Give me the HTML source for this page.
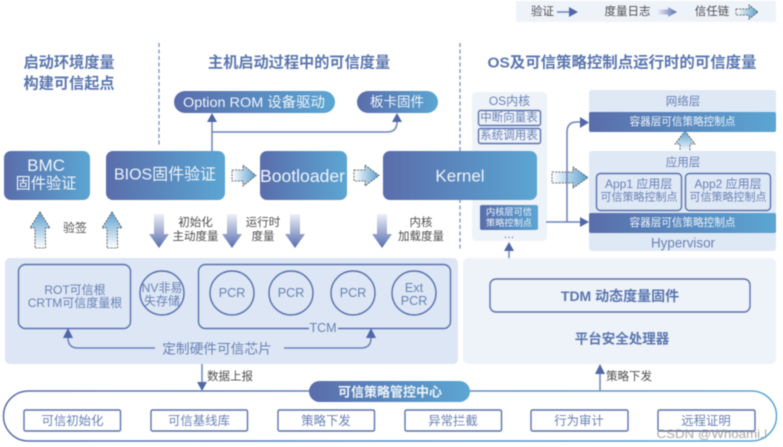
<!DOCTYPE html>
<html><head><meta charset="utf-8">
<style>
html,body{margin:0;padding:0;background:#fff;width:783px;height:447px;overflow:hidden}
svg{display:block;filter:blur(0.5px)}
text{font-family:"Liberation Sans","Noto Sans CJK SC",sans-serif;text-anchor:middle;dominant-baseline:central}
.t{font-size:15.2px;font-weight:700;fill:#5a76ae}
.w{fill:#eef4fa}
.d{fill:#4f4f4f;font-size:11.5px}
.b{fill:#6a82b5}
.box{fill:none;stroke:#5a72ae;stroke-width:1.4}
.ln{fill:none;stroke:#6c83ba;stroke-width:1.5}
.hd{fill:#5168a8}
.chain{fill:url(#gc);stroke:#444;stroke-width:.8;stroke-dasharray:2 1.2}
.up{fill:url(#gu);stroke:#444;stroke-width:.8;stroke-dasharray:2 1.2}
</style></head><body>
<svg width="783" height="447" viewBox="0 0 783 447" xmlns="http://www.w3.org/2000/svg">
<defs>
<linearGradient id="g" x1="0" x2="1" y1="0" y2="0"><stop offset="0" stop-color="#5a6dab"/><stop offset="1" stop-color="#5ba6d3"/></linearGradient>
<linearGradient id="gc" x1="0" x2="1" y1="0" y2="0"><stop offset="0" stop-color="#fff"/><stop offset="1" stop-color="#5b9fce"/></linearGradient>
<linearGradient id="gu" x1="0" x2="0" y1="1" y2="0"><stop offset="0" stop-color="#fff"/><stop offset="1" stop-color="#5b9fce"/></linearGradient>
<linearGradient id="gd" x1="0" x2="0" y1="0" y2="1"><stop offset="0" stop-color="#eef0f8"/><stop offset="1" stop-color="#566dad"/></linearGradient>
<linearGradient id="gl" x1="0" x2="1" y1="0" y2="0"><stop offset="0" stop-color="#f0f2f9"/><stop offset="1" stop-color="#566dad"/></linearGradient>
<linearGradient id="gs" gradientUnits="userSpaceOnUse" x1="4" x2="776" y1="0" y2="0"><stop offset="0" stop-color="#5a6dab"/><stop offset="1" stop-color="#5ba6d3"/></linearGradient>
<path id="down" d="M-5 0H5V20H10L0 34L-10 20H-5Z" fill="url(#gd)"/>
</defs>

<!-- legend -->
<rect x="516" y="1" width="260" height="21" fill="#eef3fa"/>
<text class="d" x="542.500" y="12">验证</text>
<path d="M557 12H570" class="ln"/><path d="M569 7L578 12L569 17Z" class="hd"/>
<text class="d" x="627.500" y="12">度量日志</text>
<path d="M657 9.500H668V7L677 12L668 17V14.500H657Z" fill="url(#gl)"/>
<text class="d" x="712" y="12">信任链</text>
<path class="chain" d="M736 9H749V5L758 12L749 19V15H736Z"/>

<!-- titles -->
<text class="t" x="69" y="63">启动环境度量</text>
<text class="t" x="69" y="84">构建可信起点</text>
<text class="t" x="299" y="63">主机启动过程中的可信度量</text>
<text class="t" x="622" y="63" textLength="269" lengthAdjust="spacingAndGlyphs">OS及可信策略控制点运行时的可信度量</text>
<path d="M159 43V146" stroke="#7a90c0" stroke-width="1.300" stroke-dasharray="4 2.500" fill="none"/>
<path d="M460 43V251" stroke="#7a90c0" stroke-width="1.300" stroke-dasharray="4 2.500" fill="none"/>

<!-- pills -->
<rect x="174" y="91" width="161" height="22" rx="11" fill="url(#g)"/>
<text class="w" x="254" y="102" font-size="14" textLength="142" lengthAdjust="spacingAndGlyphs">Option ROM 设备驱动</text>
<rect x="357" y="91" width="81" height="22" rx="11" fill="url(#g)"/>
<text class="w" x="397" y="102" font-size="13.500">板卡固件</text>

<!-- connector to pills -->
<path class="ln" d="M212 151V122"/>
<path class="hd" d="M207 122L212 113L217 122Z"/>
<path class="ln" d="M212 132H387Q397 132 397 122"/>
<path class="hd" d="M392 122L397 113L402 122Z"/>

<!-- OS kernel panel -->
<rect x="472" y="92" width="75" height="149" rx="4" fill="#eef3fa"/>
<text class="b" x="509.500" y="101" font-size="12">OS内核</text>
<rect class="box" x="478.500" y="110.500" width="62" height="15" rx="2"/>
<text class="b" x="509" y="118" font-size="11.500">中断向量表</text>
<rect class="box" x="478.500" y="128.500" width="62" height="15" rx="2"/>
<text class="b" x="509" y="136" font-size="11.500">系统调用表</text>
<rect x="480" y="205" width="58" height="25" rx="2" fill="url(#g)"/>
<text class="w" x="509" y="212" font-size="9.200">内核层可信</text>
<text class="w" x="509" y="223" font-size="9.200">策略控制点</text>
<text x="509" y="235" font-size="11" fill="#4f66a6">…</text>

<!-- main boxes -->
<rect x="4" y="151" width="86" height="49" rx="7" fill="url(#g)"/>
<text class="w" x="46" y="165.500" font-size="17">BMC</text>
<text class="w" x="46" y="184" font-size="15.200">固件验证</text>
<rect x="106" y="151" width="119" height="49" rx="7" fill="url(#g)"/>
<text class="w" x="165" y="175" font-size="16" textLength="102" lengthAdjust="spacingAndGlyphs">BIOS固件验证</text>
<rect x="260" y="151" width="87" height="49" rx="7" fill="url(#g)"/>
<text class="w" x="302.500" y="176" font-size="17.500" textLength="85" lengthAdjust="spacingAndGlyphs">Bootloader</text>
<rect x="383" y="151" width="154" height="49" rx="7" fill="url(#g)"/>
<text class="w" x="460" y="176" font-size="17">Kernel</text>

<!-- chain arrows -->
<path class="chain" d="M232 170H243V165L256 175.500L243 186V181H232Z"/>
<path class="chain" d="M354 170H365V165L379 175.500L365 186V181H354Z"/>
<path class="chain" d="M552 172H573V167L588 177.500L573 188V183H552Z"/>
<path class="up" d="M40 212L50 228H45.500V248H35V228H30Z"/>
<path class="up" d="M112 212L122 228H117.500V248H107V228H102Z"/>
<path class="up" d="M685 131L695 144H690V152H680V144H675Z"/>

<!-- down arrows -->
<use href="#down" x="159" y="214"/>
<use href="#down" x="232" y="214"/>
<use href="#down" x="295" y="214"/>
<use href="#down" x="382" y="214"/>
<text class="d" x="75" y="228" style="font-size:12px">验签</text>
<text class="d" x="195.500" y="223">初始化</text>
<text class="d" x="195.500" y="237">主动度量</text>
<text class="d" x="263" y="223">运行时</text>
<text class="d" x="263" y="237">度量</text>
<text class="d" x="421" y="223">内核</text>
<text class="d" x="421" y="237">加载度量</text>

<!-- right layers -->
<rect x="589" y="90" width="187" height="42" rx="3" fill="#dfe8f5"/>
<text class="b" x="683" y="102" font-size="11.500">网络层</text>
<rect x="589" y="112" width="187" height="20" rx="2" fill="url(#g)"/>
<text class="w" x="682.500" y="122" font-size="10.600">容器层可信策略控制点</text>
<rect x="589" y="151" width="187" height="100" rx="3" fill="#dfe8f5"/>
<text class="b" x="683" y="163" font-size="11.500">应用层</text>
<rect class="box" x="596.500" y="173.500" width="85" height="37" rx="4"/>
<rect class="box" x="685.500" y="173.500" width="85" height="37" rx="4"/>
<text class="b" x="638.700" y="184" font-size="12">App1 应用层</text>
<text class="b" x="639" y="197.500" font-size="11">可信策略控制点</text>
<text class="b" x="728" y="184" font-size="12">App2 应用层</text>
<text class="b" x="728" y="197.500" font-size="11">可信策略控制点</text>
<rect x="589" y="213" width="187" height="20" rx="2" fill="url(#g)"/>
<text class="w" x="682.500" y="223" font-size="10.600">容器层可信策略控制点</text>
<text class="b" x="683" y="243" font-size="13.400">Hypervisor</text>
<path class="ln" d="M546 222H581M567 222V132Q567 122 577 122H581"/>
<path class="hd" d="M580 217L589 222L580 227Z"/>
<path class="hd" d="M580 117L589 122.500L580 128Z"/>

<!-- chip panel -->
<rect x="5" y="258" width="453" height="106" rx="5" fill="#dce6f4"/>
<rect class="box" x="18.500" y="264.500" width="112" height="64" rx="7"/>
<text class="b" x="75" y="290" font-size="12">ROT可信根</text>
<text class="b" x="75" y="303" font-size="12">CRTM可信度量根</text>
<circle class="box" cx="162" cy="293" r="22"/>
<text class="b" x="162" y="288" font-size="12">NV非易</text>
<text class="b" x="162" y="301" font-size="12">失存储</text>
<rect class="box" x="198.500" y="264.500" width="252" height="64" rx="7"/>
<rect x="309" y="322" width="29" height="12" fill="#dce6f4"/>
<text class="b" x="323" y="328" font-size="12.500">TCM</text>
<circle class="box" cx="232" cy="293" r="22"/>
<text class="b" x="232" y="293" font-size="12.600">PCR</text>
<circle class="box" cx="291" cy="293" r="22"/>
<text class="b" x="291" y="293" font-size="12.600">PCR</text>
<circle class="box" cx="353" cy="293" r="22"/>
<text class="b" x="353" y="293" font-size="12.600">PCR</text>
<circle class="box" cx="414" cy="293" r="22"/>
<text class="b" x="414" y="288" font-size="12.600">Ext</text>
<text class="b" x="414" y="301" font-size="12.600">PCR</text>
<text class="b" x="217" y="349" font-size="13.700">定制硬件可信芯片</text>
<path class="ln" d="M155 348H78Q68 348 68 338"/>
<path class="hd" d="M63 338L68 328L73 338Z"/>
<path class="ln" d="M284 348H361Q371 348 371 338"/>
<path class="hd" d="M366 338L371 328L376 338Z"/>

<!-- right panel -->
<rect x="463" y="258" width="313" height="106" rx="5" fill="#eef3fa"/>
<rect class="box" x="490" y="279" width="260" height="33" rx="6"/>
<text x="620" y="296" font-size="14" font-weight="700" fill="#5a76ae">TDM 动态度量固件</text>
<text x="622" y="339" font-size="13.500" font-weight="700" fill="#5a76ae">平台安全处理器</text>
<path class="ln" d="M509 258V250"/><path class="hd" d="M504 251L509 242L514 251Z"/>

<!-- reporting arrows -->
<path class="ln" d="M202 364V385"/><path class="hd" d="M197 382H207L202 391Z"/>
<text class="d" x="230" y="377">数据上报</text>
<path class="ln" d="M600 372V391"/><path class="hd" d="M595 374L600 364L605 374Z"/>
<text class="d" x="629" y="377">策略下发</text>

<!-- control center -->
<rect x="3.500" y="391" width="773" height="50" rx="25" fill="none" stroke="url(#gs)" stroke-width="1.500"/>
<rect x="309" y="381" width="161" height="21" rx="10.500" fill="url(#g)"/>
<text class="w" x="390" y="392" font-size="13" font-weight="700">可信策略管控中心</text>
<g>
<rect class="box" x="24" y="410" width="96.500" height="21" rx="1.500"/>
<text class="b" x="72.500" y="421" font-size="12.400">可信初始化</text>
<rect class="box" x="151" y="410" width="96.500" height="21" rx="1.500"/>
<text class="b" x="199" y="421" font-size="12.400">可信基线库</text>
<rect class="box" x="278" y="410" width="96.500" height="21" rx="1.500"/>
<text class="b" x="326" y="421" font-size="12.400">策略下发</text>
<rect class="box" x="405" y="410" width="96.500" height="21" rx="1.500"/>
<text class="b" x="453" y="421" font-size="12.400">异常拦截</text>
<rect class="box" x="531" y="410" width="97" height="21" rx="1.500"/>
<text class="b" x="579" y="421" font-size="12.400">行为审计</text>
<rect class="box" x="658" y="410" width="97" height="21" rx="1.500"/>
<text class="b" x="706" y="421" font-size="12.400">远程证明</text>
</g>
<text x="712" y="434" font-size="12" fill="#8a8a8a" opacity=".75" textLength="111" lengthAdjust="spacingAndGlyphs">CSDN @Whoami.!</text>
</svg>
</body></html>
